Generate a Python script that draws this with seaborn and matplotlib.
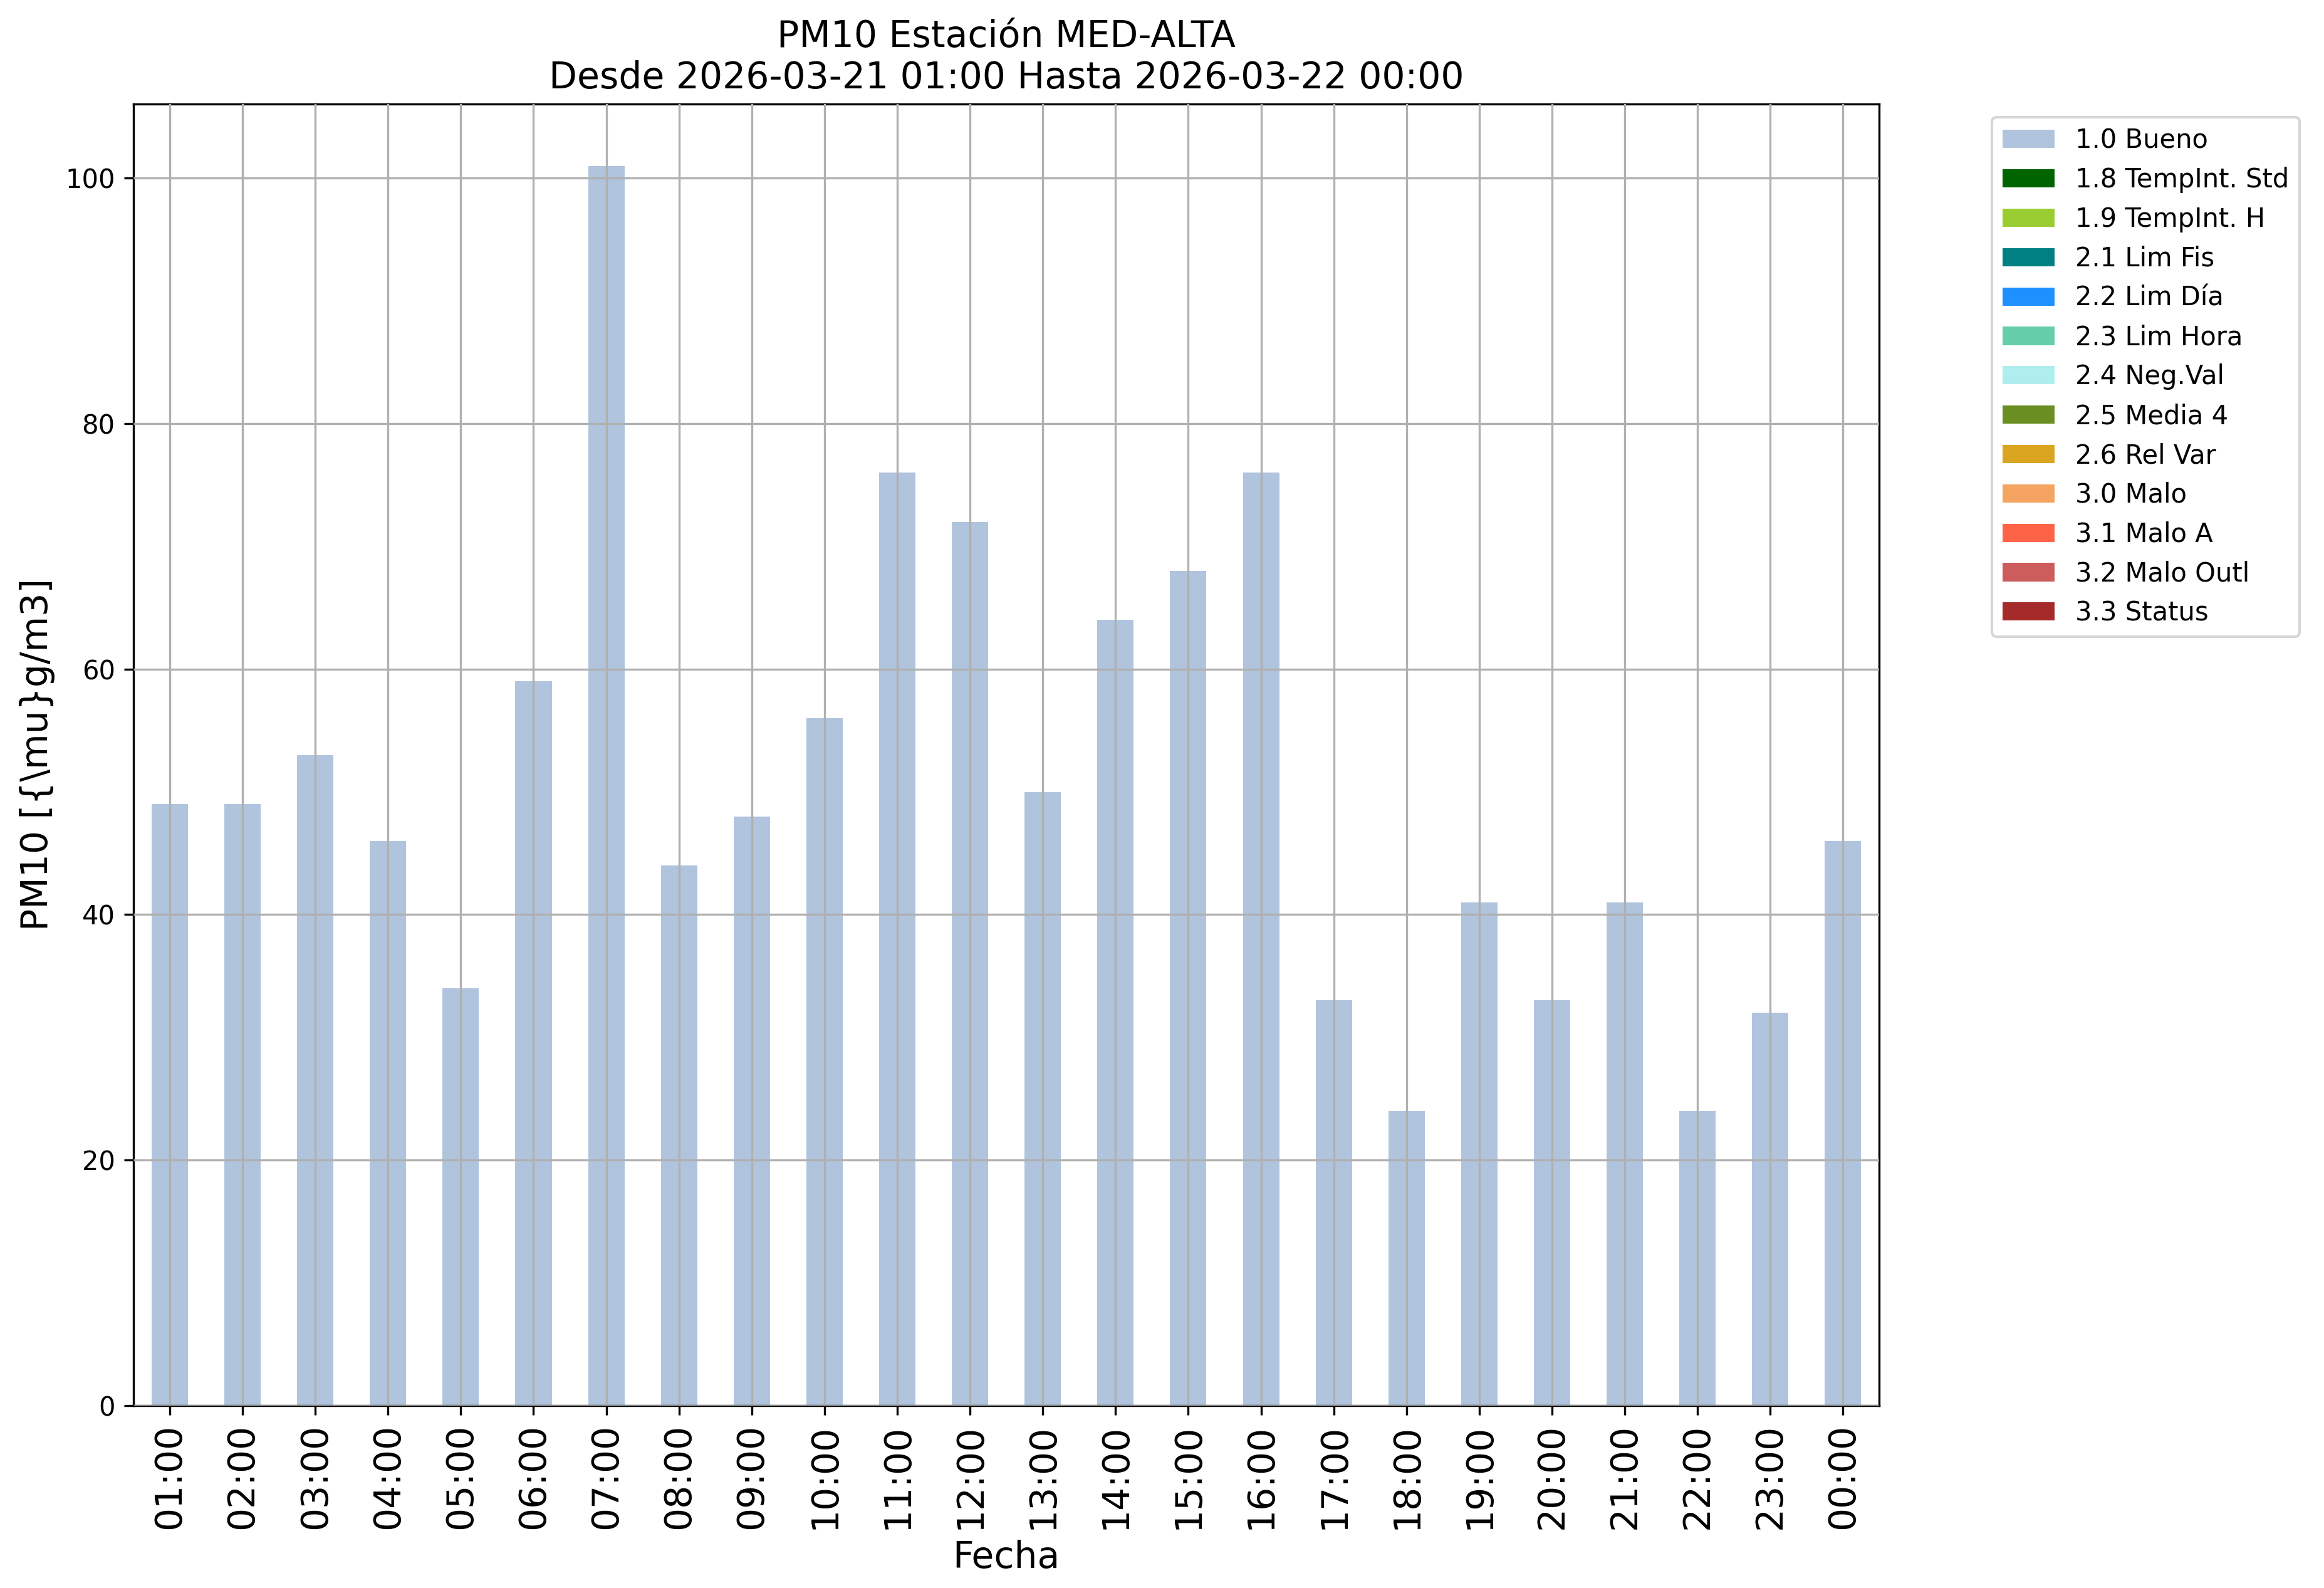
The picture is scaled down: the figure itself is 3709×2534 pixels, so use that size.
import numpy as np
import pandas as pd
import matplotlib
matplotlib.use("Agg")
import matplotlib.pyplot as plt
from matplotlib.patches import Patch
import seaborn as sns

# Hourly PM10 values (all flagged 1.0 Bueno)
hours = ["01:00", "02:00", "03:00", "04:00", "05:00", "06:00", "07:00", "08:00",
         "09:00", "10:00", "11:00", "12:00", "13:00", "14:00", "15:00", "16:00",
         "17:00", "18:00", "19:00", "20:00", "21:00", "22:00", "23:00", "00:00"]
bueno = [49, 49, 53, 46, 34, 59, 101, 44, 48, 56, 76, 72,
         50, 64, 68, 76, 33, 24, 41, 33, 41, 24, 32, 46]

flags = ["1.0 Bueno", "1.8 TempInt. Std", "1.9 TempInt. H", "2.1 Lim Fis",
         "2.2 Lim Día", "2.3 Lim Hora", "2.4 Neg.Val", "2.5 Media 4",
         "2.6 Rel Var", "3.0 Malo", "3.1 Malo A", "3.2 Malo Outl", "3.3 Status"]
flag_colors = ["lightsteelblue", "darkgreen", "yellowgreen", "teal", "dodgerblue",
               "mediumaquamarine", "paleturquoise", "olivedrab", "goldenrod",
               "sandybrown", "tomato", "indianred", "brown"]

# every other flag has no data in this period
series = {f: [0] * len(hours) for f in flags}
series["1.0 Bueno"] = bueno

fig, ax = plt.subplots(figsize=(3709 / 300, 2534 / 300), dpi=300)
fig.subplots_adjust(left=0.0574, right=0.8087, top=0.9345, bottom=0.115)

# stacked bars, one layer per quality flag
bottom = np.zeros(len(hours))
for flag, col in zip(flags, flag_colors):
    vals = np.array(series[flag], dtype=float)
    df = pd.DataFrame({"hora": hours, "valor": vals})
    sns.barplot(data=df, x="hora", y="valor", color=col, width=0.5,
                bottom=bottom, linewidth=0, saturation=1, ax=ax, errorbar=None)
    bottom += vals

ax.set_xlim(-0.5, len(hours) - 0.5)
ax.set_ylim(0, max(bueno) * 1.05)
ax.set_axisbelow(False)
ax.grid(True, color="#b0b0b0", linewidth=0.8)

ax.set_title("PM10 Estación MED-ALTA\nDesde 2026-03-21 01:00 Hasta 2026-03-22 00:00", fontsize=14)
ax.set_xlabel("Fecha", fontsize=14)
ax.set_ylabel("PM10 [{\\mu}g/m3]", fontsize=14)
ax.tick_params(axis="x", labelrotation=90, labelsize=14)
ax.tick_params(axis="y", labelsize=10)

handles = [Patch(facecolor=c, label=f) for f, c in zip(flags, flag_colors)]
ax.legend(handles=handles, bbox_to_anchor=(1.057, 1), loc="upper left", fontsize=10)

fig.savefig("out.png", dpi=300)
